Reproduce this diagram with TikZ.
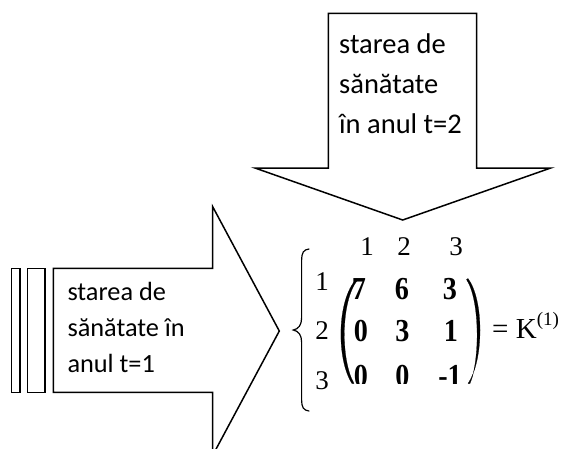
\documentclass[tikz,border=0pt]{standalone}
\usepackage{fontspec}
\usepackage{graphicx}
\setmainfont{Carlito}
\newfontfamily\serifnum{Liberation Serif}
\newcommand\narrowbold[1]{\scalebox{0.88}[1]{#1}}
\begin{document}
\begin{tikzpicture}[x=1pt,y=-1pt,
  outline/.style={draw=black,line width=1.5pt,line join=miter,fill=white},
  calibri/.style={inner sep=0pt,anchor=base west,font=\fontsize{28.5}{34}\selectfont},
  calibrism/.style={inner sep=0pt,anchor=base west,font=\fontsize{26.3}{32}\selectfont},
  idx/.style={inner sep=0pt,anchor=base,font=\serifnum\fontsize{27}{30}\selectfont},
  entry/.style={inner sep=0pt,anchor=base,font=\serifnum\bfseries\fontsize{32}{36}\selectfont},
  delim/.style={fill=black,draw=black,line width=0.2pt}]
\useasboundingbox (0,0) rectangle (561,448);
\clip (0,0) rectangle (561,448);

% downward block arrow
\draw[outline] (328.3,13.3) -- (476.7,13.3) -- (476.7,168) -- (550.7,168)
  -- (402.7,220) -- (255,168) -- (328.3,168) -- cycle;
\node[calibri] (t1) at (339,53.3) {starea de};
\node[calibri] (t2) at (339,93.3) {sănătate};
\node[calibri] (t3) at (339,133.3) {în anul t=2};

% rightward striped block arrow
\draw[outline] (11.7,268.3) rectangle (20,392.3);
\draw[outline] (27.7,268.3) rectangle (45,392.3);
\draw[outline] (53.3,268.3) -- (212.7,268.3) -- (212.7,206.7) -- (279.3,331)
  -- (212.7,455.3) -- (212.7,392.3) -- (53.3,392.3) -- cycle;
\node[calibrism] (s1) at (67.3,300) {starea de};
\node[calibrism] (s2) at (67.3,336.5) {sănătate în};
\node[calibrism] (s3) at (67.3,372) {anul t=1};

% left brace
\draw[line width=1.2pt,line cap=round]
  (309,249) .. controls (303.5,249.5) and (301.6,253) .. (301.6,260)
  -- (301.6,318) .. controls (301.6,325) and (298.5,329) .. (293.3,330)
  .. controls (298.5,331) and (301.6,335) .. (301.6,342)
  -- (301.6,400) .. controls (301.6,407) and (303.5,410.5) .. (309,411);

% column indices
\node[idx] (c1) at (367,255) {1};
\node[idx] (c2) at (404,255) {2};
\node[idx] (c3) at (456,255) {3};
% row indices
\node[idx] (r1) at (322,290) {1};
\node[idx] (r2) at (322,339) {2};
\node[idx] (r3) at (322,389) {3};

% matrix parentheses
\fill[delim] (356.5,279) .. controls (336.5,300) and (336.5,360) .. (352,383.5)
  -- (354,383.5) .. controls (340.5,360) and (340.5,300) .. (358,279.5) -- cycle;
\fill[delim] (468,278.5) .. controls (484,300) and (484,360) .. (468,383.5)
  -- (470,383.5) .. controls (480,360) and (480,300) .. (466.5,279.5) -- cycle;

% matrix entries
\begin{scope}
\clip (340,260) rectangle (480,383.5);
\node[entry] (m11) at (359,299) {\narrowbold{7}};
\node[entry] (m12) at (402,299) {\narrowbold{6}};
\node[entry] (m13) at (450,299) {\narrowbold{3}};
\node[entry] (m21) at (361,341) {\narrowbold{0}};
\node[entry] (m22) at (402.5,341) {\narrowbold{3}};
\node[entry] (m23) at (451,341) {\narrowbold{1}};
\node[entry] (m31) at (361,386) {\narrowbold{0}};
\node[entry] (m32) at (402.5,386) {\narrowbold{0}};
\node[entry] (m33) at (450,386) {\narrowbold{-1}};
\end{scope}

% result name
\node[inner sep=0pt,anchor=base west,font=\serifnum\fontsize{29}{32}\selectfont] (k) at (492,338)
  {= K\raisebox{13pt}{\fontsize{19}{20}\selectfont(1)}};
\end{tikzpicture}
\end{document}
